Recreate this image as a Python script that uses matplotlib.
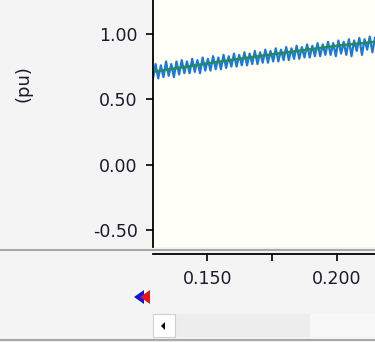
import numpy as np
import matplotlib.pyplot as plt
from matplotlib.patches import Rectangle, Polygon

# ---------------- data ----------------
T_START, T_END = 0.129, 0.2147
blue_vals = [
    0.66, 0.77, 0.66, 0.76, 0.67, 0.79, 0.68, 0.77, 0.67, 0.79,
    0.69, 0.80, 0.70, 0.79, 0.70, 0.81, 0.71, 0.80, 0.70, 0.82,
    0.72, 0.81, 0.72, 0.83, 0.73, 0.82, 0.73, 0.84, 0.74, 0.83,
    0.75, 0.85, 0.75, 0.84, 0.76, 0.86, 0.76, 0.85, 0.77, 0.87,
    0.77, 0.86, 0.78, 0.88, 0.78, 0.87, 0.79, 0.89, 0.79, 0.88,
    0.80, 0.90, 0.80, 0.89, 0.81, 0.91, 0.81, 0.90, 0.82, 0.92,
    0.82, 0.91, 0.83, 0.93, 0.83, 0.92, 0.84, 0.94, 0.84, 0.93,
    0.83, 0.95, 0.85, 0.94, 0.84, 0.96, 0.83, 0.95, 0.87, 0.97,
    0.84, 0.96, 0.88, 0.98, 0.86, 0.97,
]
green_t = [0.129, 0.150, 0.175, 0.200, 0.2147]
green_vals = [0.71, 0.775, 0.845, 0.91, 0.94]

y_ticks = [1.00, 0.50, 0.00, -0.50]
x_ticks = [0.150, 0.175, 0.200]
x_labels = ["0.150", "", "0.200"]

# ---------------- layout ----------------
W, H = 375, 342
BG = "#F4F4F4"
FS = 12.5
plt.rcParams["font.family"] = ["DejaVu Sans"]

fig = plt.figure(figsize=(W / 100, H / 100), dpi=100, facecolor=BG)


def box(x0, y0, x1, y1):
    # pixel box (top-left origin) -> figure fraction rect
    return [x0 / W, 1 - y1 / H, (x1 - x0) / W, (y1 - y0) / H]


def px(x, y):
    return (x / W, 1 - y / H)


# main plot
ax = fig.add_axes(box(153, 0, W, 247))
ax.set_facecolor("#FFFFF7")
blue_t = np.linspace(T_START, T_END, len(blue_vals))
ax.plot(blue_t, blue_vals, color="#1E78D8", lw=1.6)
ax.plot(green_t, green_vals, color="#238B5A", lw=1.8)
ax.set_xlim(T_START, T_END)
ax.set_ylim(-0.63, 1.26)
for s in ["top", "right", "bottom"]:
    ax.spines[s].set_visible(False)
ax.spines["left"].set_linewidth(1.3)
ax.set_xticks([])
ax.set_yticks(y_ticks)
ax.set_yticklabels([f"{v:.2f}" for v in y_ticks], fontsize=FS, color="#1A1A2A")
ax.tick_params(axis="y", length=5, width=1.2, pad=6)
fig.text(*px(23, 84), "(pu)", rotation=90, ha="center", va="center",
         fontsize=FS + 0.5, color="#1A1A2A")

# separator lines
fig.add_artist(plt.Line2D([0, 1], [1 - 250 / H] * 2, color="#A8A8A8", lw=1.5))
fig.add_artist(plt.Line2D([0, 1], [1 - 340 / H] * 2, color="#A8A8A8", lw=1.5))

# time axis
tax = fig.add_axes(box(153, 250, W, 253.5))
tax.patch.set_visible(False)
tax.set_xlim(T_START, T_END)
for s in ["top", "right", "left"]:
    tax.spines[s].set_visible(False)
tax.spines["bottom"].set_linewidth(1.3)
tax.set_yticks([])
tax.set_xticks(x_ticks)
tax.set_xticklabels(x_labels, fontsize=FS, color="#1A1A2A")
tax.tick_params(axis="x", length=5, width=1.2, pad=7)

# blue / red markers
for x0, col in [(134, "#1010E0"), (140, "#F01010")]:
    fig.add_artist(Polygon([px(x0, 297), px(x0 + 10, 290), px(x0 + 10, 304)],
                           closed=True, transform=fig.transFigure,
                           facecolor=col, edgecolor="none"))

# scrollbar
fig.add_artist(Rectangle(px(153, 337), (W - 153) / W, 23 / H,
                         transform=fig.transFigure, facecolor="#F8F8F8",
                         edgecolor="none"))
fig.add_artist(Rectangle(px(176, 337), (310 - 176) / W, 23 / H,
                         transform=fig.transFigure, facecolor="#EDEDED",
                         edgecolor="none"))
fig.add_artist(Rectangle(px(153, 337), 22 / W, 23 / H,
                         transform=fig.transFigure, facecolor="#FFFFFF",
                         edgecolor="#D0D0D0", lw=0.8))
fig.add_artist(Polygon([px(161, 326), px(165, 322), px(165, 330)],
                       closed=True, transform=fig.transFigure,
                       facecolor="black", edgecolor="none"))

fig.savefig("out.png", dpi=100, facecolor=BG)
